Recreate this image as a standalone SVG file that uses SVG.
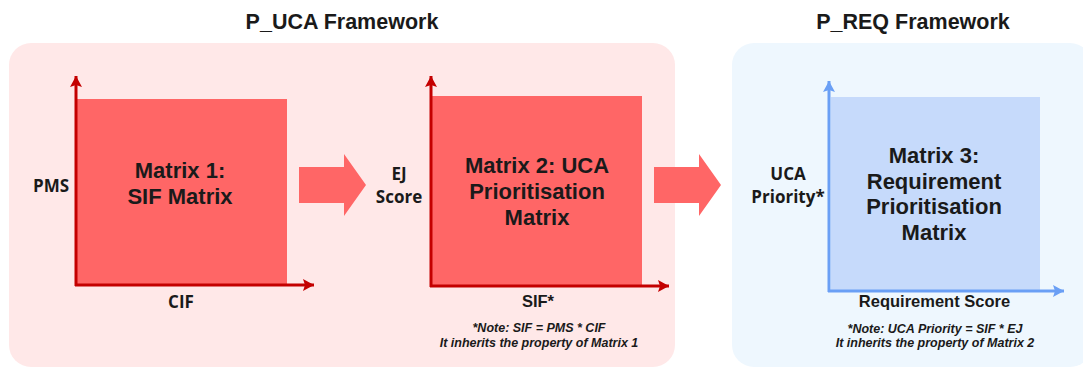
<svg xmlns="http://www.w3.org/2000/svg" width="1083" height="371" viewBox="0 0 1083 371">
<style>
.title{font-family:"Liberation Sans",Arial,sans-serif;font-weight:bold;font-size:21.5px;fill:#1a1a1a;text-anchor:middle}
.mtx{font-family:"Liberation Sans",Arial,sans-serif;font-weight:bold;font-size:22px;fill:#1a1a1a;text-anchor:middle}
.ax{font-family:"Open Sans","Liberation Sans",sans-serif;font-weight:bold;font-size:17px;fill:#1a1a1a;text-anchor:middle}
.ax2{font-family:"Liberation Sans",Arial,sans-serif;font-weight:bold;font-size:16.5px;fill:#1a1a1a;text-anchor:middle}
.note{font-family:"Liberation Sans",Arial,sans-serif;font-weight:bold;font-style:italic;font-size:12.5px;fill:#1a1a1a;text-anchor:middle}
.raxis{stroke:#C40000;stroke-width:3;fill:none}
.baxis{stroke:#6A9FF5;stroke-width:3;fill:none}
.rmat{fill:#FF6666}
.bmat{fill:#C6DAFB}
.big{fill:#FF6666}
</style>
<defs>
<marker id="ahR" markerUnits="userSpaceOnUse" markerWidth="14" markerHeight="14" refX="11" refY="6" orient="auto">
<path d="M0,0 L11,6 L0,12 L2,6 Z" fill="#C40000"/>
</marker>
<marker id="ahB" markerUnits="userSpaceOnUse" markerWidth="14" markerHeight="14" refX="11" refY="6" orient="auto">
<path d="M0,0 L11,6 L0,12 L2,6 Z" fill="#6A9FF5"/>
</marker>
</defs>
<g id="panels">
<rect id="puca-panel" x="9" y="43" width="666" height="324" rx="22" fill="#FFE8E8"/>
<rect id="preq-panel" x="732" y="43" width="360" height="324" rx="22" fill="#EEF7FE"/>
</g>
<text class="title" x="342" y="29">P_UCA Framework</text>
<text class="title" x="913" y="29">P_REQ Framework</text>

<g id="matrix1">
<rect class="rmat" x="77" y="99" width="210" height="186"/>
<text class="mtx" x="180" y="178">Matrix 1:</text>
<text class="mtx" x="180" y="204">SIF Matrix</text>
<text class="ax" x="51" y="192">PMS</text>
<text class="ax" x="181" y="308">CIF</text>
</g>

<g id="matrix2">
<rect class="rmat" x="432" y="96" width="210" height="190"/>
<text class="mtx" x="537" y="173">Matrix 2: UCA</text>
<text class="mtx" x="537" y="199">Prioritisation</text>
<text class="mtx" x="537" y="225">Matrix</text>
<text class="ax" x="399" y="180">EJ</text>
<text class="ax" x="399" y="203">Score</text>
<text class="ax2" x="538" y="307">SIF*</text>
<text class="note" x="539" y="332">*Note: SIF = PMS * CIF</text>
<text class="note" x="539" y="347">It inherits the property of Matrix 1</text>
</g>

<g id="matrix3">
<rect class="bmat" x="831" y="97" width="209" height="193"/>
<text class="mtx" x="934" y="163">Matrix 3:</text>
<text class="mtx" x="934" y="188.5">Requirement</text>
<text class="mtx" x="934" y="214">Prioritisation</text>
<text class="mtx" x="934" y="240">Matrix</text>
<text class="ax" x="788" y="180">UCA</text>
<text class="ax" x="788" y="203">Priority*</text>
<text class="ax2" x="934.5" y="307">Requirement Score</text>
<text class="note" x="935" y="333">*Note: UCA Priority = SIF * EJ</text>
<text class="note" x="935" y="347">It inherits the property of Matrix 2</text>
</g>

<g id="connectors">
<path class="raxis" d="M76,286 L76,76" marker-end="url(#ahR)"/>
<path class="raxis" d="M75,285 L314,285" marker-end="url(#ahR)"/>
<path class="raxis" d="M431,287 L431,76" marker-end="url(#ahR)"/>
<path class="raxis" d="M430,286 L669,286" marker-end="url(#ahR)"/>
<path class="baxis" d="M829,292 L829,81" marker-end="url(#ahB)"/>
<path class="baxis" d="M828,291 L1064,291" marker-end="url(#ahB)"/>
<path id="flow1" class="big" d="M299,167 L344,167 L344,154 L366,185 L344,216 L344,203 L299,203 Z"/>
<path id="flow2" class="big" d="M654,167 L699,167 L699,154 L721,185 L699,216 L699,203 L654,203 Z"/>
</g>
</svg>
